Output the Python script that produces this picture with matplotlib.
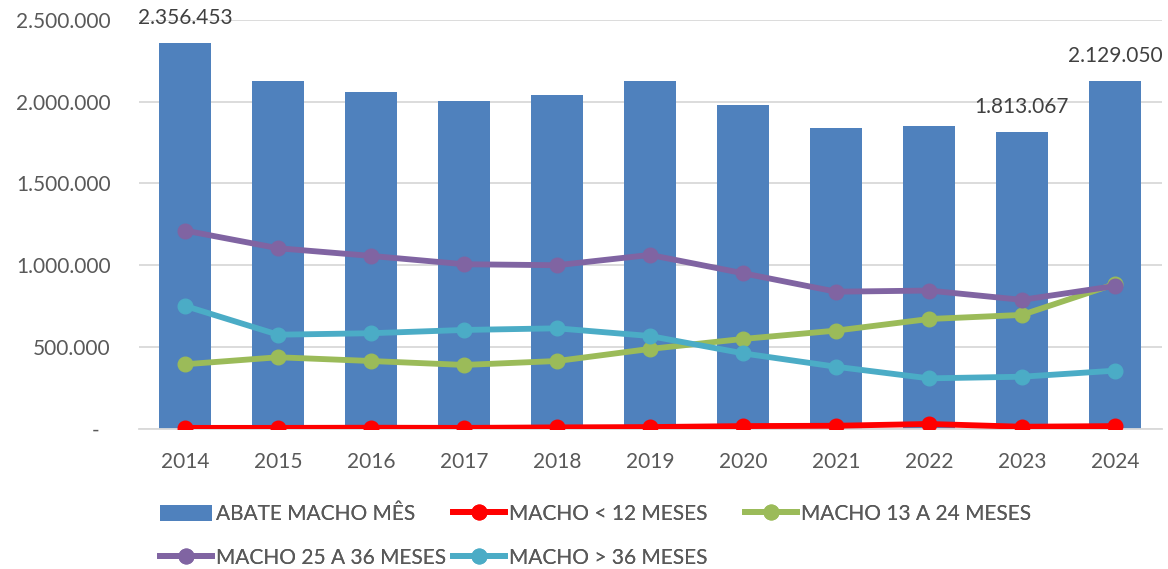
import matplotlib
matplotlib.use("Agg")
import matplotlib.pyplot as plt
from matplotlib.lines import Line2D
from matplotlib.patches import Patch

years = ["2014", "2015", "2016", "2017", "2018", "2019", "2020", "2021", "2022", "2023", "2024"]
abate_macho_mes = [2356453, 2128000, 2062000, 2007000, 2040000, 2126000, 1983000, 1838000, 1854000, 1813067, 2129050]
macho_lt12 = [5000, 5000, 6000, 5000, 8000, 10000, 16000, 18000, 29000, 12000, 16000]
macho_13_24 = [394000, 437000, 414000, 390000, 414000, 488000, 549000, 600000, 671000, 696000, 885000]
macho_25_36 = [1212000, 1104000, 1057000, 1006000, 1000000, 1063000, 951000, 838000, 845000, 788000, 873000]
macho_gt36 = [751000, 575000, 584000, 604000, 614000, 567000, 461000, 379000, 308000, 318000, 355000]
labelled_years = ["2014", "2023", "2024"]
y_ticks = [0, 500000, 1000000, 1500000, 2000000, 2500000]

FONT = "Lato"
plt.rcParams["font.family"] = [FONT, "DejaVu Sans"]

BAR_C = "#4F81BD"
C_RED = "#FF0000"
C_GREEN = "#9BBB59"
C_PURPLE = "#8064A2"
C_CYAN = "#4BACC6"
TICK_C = "#595959"
GRID_C = "#D9D9D9"


def fmt(v):
    return f"{int(round(v)):,}".replace(",", ".")


fig = plt.figure(figsize=(11.68, 5.69), dpi=100)
ax = fig.add_axes([138.5 / 1168, 1 - 428.7 / 569, (1161.5 - 138.5) / 1168, (428.7 - 20) / 569])

x = list(range(len(years)))
ax.bar(x, abate_macho_mes, width=0.56, color=BAR_C, zorder=2)

lw = 4.2
ms = 10.5
series = [
    (macho_lt12, C_RED),
    (macho_13_24, C_GREEN),
    (macho_25_36, C_PURPLE),
    (macho_gt36, C_CYAN),
]
for i, (vals, c) in enumerate(series):
    ax.plot(x, vals, color=c, lw=lw, marker="o", ms=ms, zorder=3 + i,
            solid_capstyle="round")

for i, y in enumerate(years):
    if y in labelled_years:
        v = abate_macho_mes[i]
        ax.annotate(fmt(v), (i, v), xytext=(0, 25 / 1.389), textcoords="offset points",
                    ha="center", va="center", fontsize=15, color="#404040", zorder=10)

ax.set_xlim(-0.5, len(years) - 0.5)
ax.set_ylim(0, 2500000)
ax.set_yticks(y_ticks)
ax.set_yticklabels(["-  " if v == 0 else fmt(v) for v in y_ticks])
ax.set_xticks(x)
ax.set_xticklabels(years)
ax.tick_params(axis="y", length=0, pad=20, labelsize=15, labelcolor=TICK_C)
ax.tick_params(axis="x", length=0, pad=17, labelsize=15, labelcolor=TICK_C)
ax.grid(axis="y", color=GRID_C, lw=1.3, zorder=0)
ax.set_axisbelow(True)
for s in ["left", "right", "top"]:
    ax.spines[s].set_visible(False)
ax.spines["bottom"].set_color(GRID_C)
ax.spines["bottom"].set_linewidth(1.3)


def line_handle(c):
    return Line2D([0], [0], color=c, lw=lw, marker="o", ms=ms)


legend_cols = [
    (160, [(Patch(facecolor=BAR_C), "ABATE MACHO MÊS"), (line_handle(C_PURPLE), "MACHO 25 A 36 MESES")]),
    (453, [(line_handle(C_RED), "MACHO < 12 MESES"), (line_handle(C_CYAN), "MACHO > 36 MESES")]),
    (745, [(line_handle(C_GREEN), "MACHO 13 A 24 MESES")]),
]
for xpix, items in legend_cols:
    hs = [h for h, _ in items]
    ls = [l for _, l in items]
    leg = fig.legend(hs, ls, loc="upper left", bbox_to_anchor=(xpix / 1168, 1 - 504 / 569),
                     frameon=False, fontsize=15, handlelength=2.5, handleheight=0.8,
                     handletextpad=0.2, borderpad=0, borderaxespad=0, labelspacing=1.15,
                     labelcolor=TICK_C)
    fig.add_artist(leg)

fig.savefig("out.png", dpi=100)
